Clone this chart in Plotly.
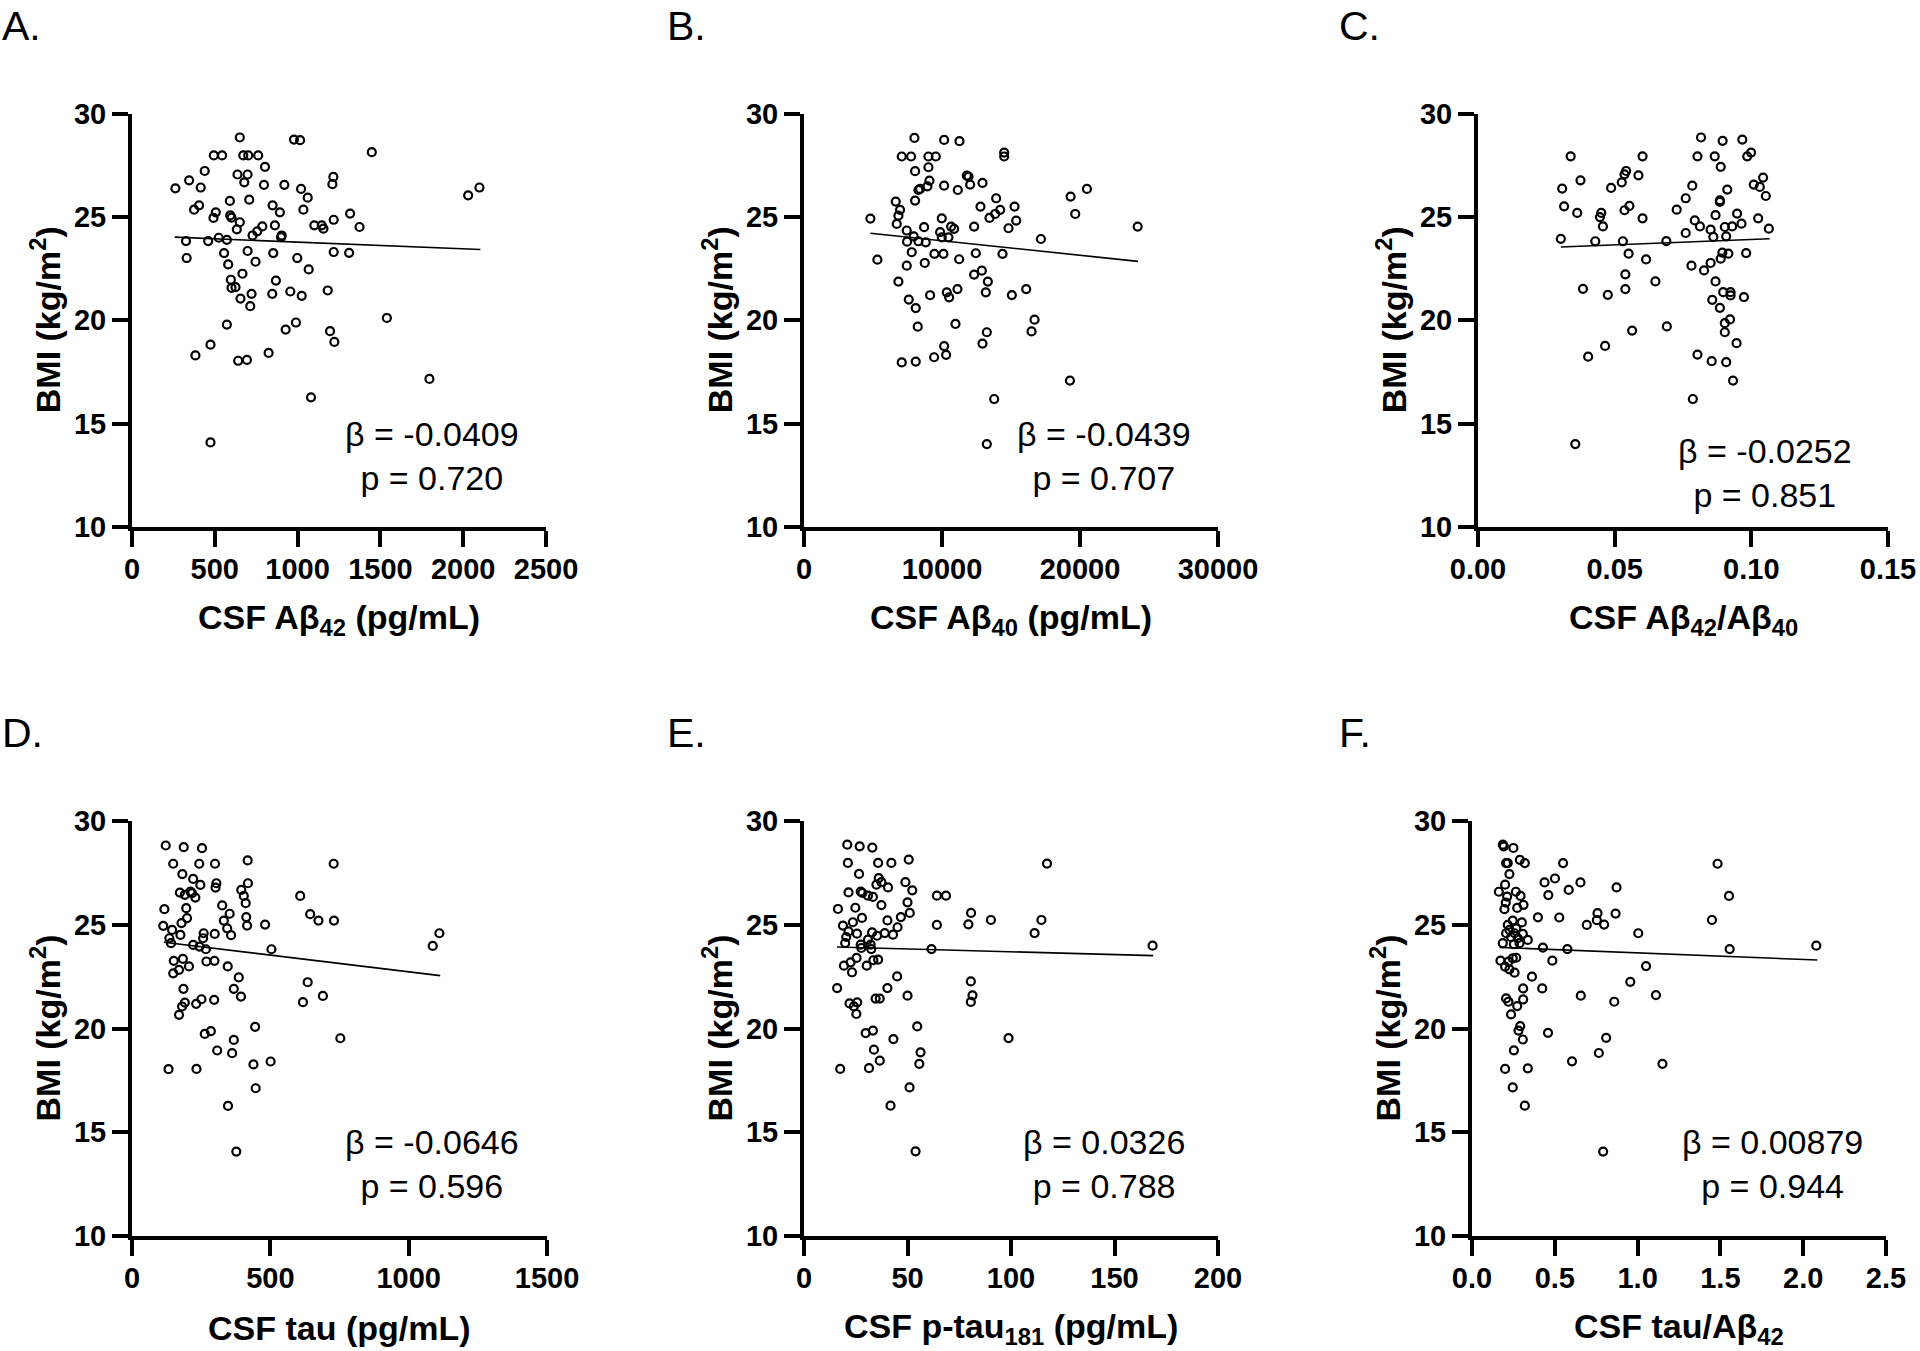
import plotly.graph_objects as go

# ---------------- data ----------------
bmi_label = "BMI (kg/m<sup>2</sup>)"

a_x = [651,978,1015,1448,494,544,672,702,762,803,439,637,698,1216,345,678,262,415,797,920,1021,1210,2098,2030,1061,591,708,849,405,375,506,893,1035,492,593,601,651,633,1317,1218,863,787,756,728,904,900,1101,1146,1156,1374,524,573,460,326,330,556,698,853,1218,1311,998,746,581,1067,667,869,597,601,625,655,722,847,956,1025,1182,714,1539,573,928,990,1196,1222,474,383,641,694,825,1796,1081,474]
a_y = [28.84,28.74,28.71,28.13,27.97,27.97,27.97,27.97,27.97,27.42,27.22,27.05,27.05,26.93,26.77,26.67,26.38,26.42,26.55,26.55,26.35,26.58,26.42,26.04,25.93,25.77,25.83,25.56,25.56,25.35,25.22,25.22,25.35,24.95,25.07,24.96,24.74,24.40,25.16,24.86,24.59,24.54,24.30,24.10,24.10,24.02,24.59,24.59,24.43,24.51,23.99,23.89,23.83,23.83,23.01,23.25,23.35,23.25,23.30,23.26,23.01,22.83,22.70,22.46,22.25,21.92,21.96,21.57,21.60,21.05,21.28,21.28,21.39,21.18,21.44,20.68,20.11,19.79,19.55,19.89,19.47,18.95,18.82,18.30,18.04,18.08,18.42,17.16,16.27,14.09]

b_x = [8002,10154,11266,7083,7760,9017,9549,14506,14506,9017,8050,11798,11919,9090,8945,8413,8292,10154,11145,12040,12934,6648,8050,6962,6841,4810,6720,13926,12789,14216,13853,13442,15256,15377,14820,19318,20503,19656,24178,9984,8703,7446,7953,7470,8292,8824,9864,9984,10468,10661,10879,12330,17166,5318,7808,9452,10105,11242,12451,14385,7446,8751,6841,12330,12886,13321,13176,7591,8098,9138,10347,10516,11121,15062,16102,8243,10976,13249,16706,16489,12934,10154,10299,9428,7083,8098,19270,13781,13249]
b_y = [28.82,28.72,28.66,27.92,27.92,27.92,27.92,28.11,27.92,27.40,27.21,27.00,26.95,26.75,26.48,26.35,26.30,26.51,26.30,26.56,26.64,25.74,25.79,25.34,25.06,24.92,24.66,25.90,25.50,25.34,25.14,24.95,25.50,24.82,24.45,25.98,26.35,25.14,24.53,24.93,24.50,24.34,24.06,23.80,23.82,23.77,24.26,24.01,24.01,24.53,24.42,24.53,23.93,22.93,23.29,23.21,23.21,22.95,23.24,23.21,22.64,22.77,21.87,22.21,22.40,21.87,21.35,21.00,20.59,21.21,21.35,21.11,21.51,21.22,21.51,19.69,19.82,19.42,20.03,19.46,18.87,18.75,18.33,18.21,17.96,18.00,17.08,16.19,14.01]

c_x = [0.0816,0.0895,0.0967,0.0339,0.0602,0.0803,0.0866,0.0999,0.0985,0.0888,0.0542,0.0536,0.0587,0.0526,0.0375,0.0308,0.0487,0.0784,0.0912,0.1043,0.1009,0.1031,0.1053,0.0760,0.0885,0.0885,0.0315,0.0363,0.0451,0.0446,0.0536,0.0554,0.0602,0.0727,0.0869,0.0948,0.1025,0.0457,0.0793,0.0812,0.0851,0.0903,0.0930,0.0964,0.1064,0.0760,0.0861,0.0908,0.0303,0.0429,0.0530,0.0689,0.0551,0.0615,0.0894,0.0916,0.0981,0.0888,0.0781,0.0827,0.0851,0.0539,0.0649,0.0869,0.0384,0.0475,0.0539,0.0897,0.0924,0.0924,0.0973,0.0857,0.0885,0.0903,0.0922,0.0903,0.0691,0.0564,0.0946,0.0465,0.0403,0.0803,0.0855,0.0908,0.0933,0.0786,0.0356]
c_y = [28.84,28.68,28.74,27.93,27.93,27.93,27.93,28.11,27.93,27.42,27.22,27.06,27.01,26.67,26.77,26.37,26.40,26.51,26.32,26.90,26.56,26.45,26.01,25.90,25.80,25.72,25.51,25.19,25.19,24.99,25.32,25.53,24.93,25.35,25.08,25.16,24.93,24.54,24.83,24.54,24.38,24.51,24.54,24.67,24.43,24.22,24.03,24.06,23.94,23.82,23.82,23.83,23.22,22.94,23.27,23.22,23.25,22.98,22.64,22.41,22.77,22.22,21.88,21.88,21.52,21.23,21.51,21.36,21.36,21.20,21.12,20.99,20.60,19.86,20.04,19.42,19.70,19.50,18.89,18.76,18.24,18.34,18.02,17.97,17.08,16.19,14.01]

d_x = [122,187,253,149,243,300,418,729,182,221,247,305,302,419,173,191,211,217,229,395,404,411,608,117,196,326,353,199,179,332,344,358,413,416,481,644,674,730,113,145,175,259,257,299,135,141,221,244,267,504,1087,1111,151,184,206,170,149,269,298,346,386,368,394,635,618,690,186,191,181,170,232,251,297,263,285,445,368,753,308,362,439,501,132,233,447,347,377]
d_y = [28.82,28.74,28.69,27.94,27.94,27.94,28.10,27.94,27.44,27.21,26.92,27.00,26.79,27.00,26.55,26.44,26.60,26.52,26.31,26.68,26.39,26.04,26.39,25.75,25.80,25.93,25.53,25.32,25.08,25.20,24.83,24.50,25.37,24.96,25.01,25.51,25.20,25.20,24.95,24.75,24.51,24.59,24.35,24.56,24.35,24.11,24.03,23.95,23.82,23.82,23.98,24.59,23.26,23.36,22.99,22.83,22.66,23.23,23.26,22.99,22.46,21.91,21.54,22.23,21.27,21.57,21.91,21.25,21.06,20.66,21.19,21.41,21.38,19.74,19.87,20.08,19.45,19.53,18.94,18.81,18.27,18.41,18.04,18.05,17.12,16.27,14.07]

e_x = [20.9,26.9,33.0,21.2,35.8,42.2,50.6,117.4,26.6,36.1,35.0,37.4,40.6,49.0,52.3,21.5,27.4,28.2,30.9,33.3,64.2,68.6,16.4,24.8,37.4,50.0,51.1,80.7,79.4,90.3,114.7,111.4,64.2,28.0,23.6,18.8,40.3,46.8,45.2,39.0,43.0,32.9,35.3,20.4,21.5,25.6,19.9,27.4,30.9,32.2,27.7,32.5,61.6,168.4,19.3,22.5,25.4,23.2,30.3,33.5,35.8,45.0,40.3,16.0,34.6,36.6,50.0,80.6,81.4,80.6,22.0,25.7,24.1,25.3,29.8,33.3,43.2,54.7,98.8,33.8,36.6,31.4,17.5,56.3,55.7,51.0,41.8,53.9]
e_y = [28.86,28.78,28.72,27.98,27.98,27.98,28.14,27.95,27.45,27.25,26.93,27.05,26.80,27.05,26.66,26.56,26.60,26.53,26.40,26.34,26.40,26.40,25.76,25.82,25.95,26.08,25.57,25.57,25.02,25.23,25.23,24.60,24.99,25.33,25.12,24.96,25.21,25.37,24.88,24.60,24.52,24.63,24.47,24.41,24.68,24.57,24.12,24.04,24.28,24.04,23.88,23.83,23.83,23.99,23.03,23.19,23.40,22.71,23.03,23.29,23.32,22.51,21.95,21.95,21.44,21.44,21.58,22.27,21.60,21.28,21.21,21.26,21.07,20.70,19.78,19.90,19.49,20.10,19.54,18.98,18.45,18.09,18.05,18.85,18.30,17.16,16.28,14.08]

f_x = [0.186,0.192,0.250,0.206,0.216,0.289,0.319,0.550,1.483,0.226,0.200,0.162,0.212,0.265,0.293,0.438,0.501,0.655,0.584,0.461,0.873,1.552,0.196,0.273,0.311,0.204,0.398,0.527,0.758,0.867,0.754,0.798,0.693,1.449,1.004,0.216,0.246,0.301,0.226,0.267,0.206,0.257,0.307,0.236,0.277,0.337,0.186,0.253,0.287,0.428,0.576,1.556,2.079,0.172,0.220,0.246,0.267,0.200,0.226,0.257,0.485,1.051,0.362,0.309,0.424,0.956,0.206,0.220,0.273,0.309,0.657,0.859,1.111,0.236,0.291,0.281,0.307,0.459,0.810,0.766,0.253,0.200,0.337,0.604,1.150,0.246,0.319,0.792]
f_y = [28.86,28.78,28.70,27.97,27.97,28.13,27.97,27.97,27.94,27.44,26.93,26.59,26.36,26.59,26.39,27.04,27.23,27.04,26.68,26.43,26.80,26.39,25.75,25.81,25.96,26.07,25.36,25.35,25.56,25.54,25.22,25.01,24.99,25.23,24.59,24.99,25.20,25.11,24.75,24.83,24.59,24.59,24.56,24.40,24.35,24.27,24.11,24.06,24.11,23.90,23.83,23.83,23.99,23.27,23.22,23.38,23.41,22.98,22.85,22.69,23.27,23.01,22.50,21.93,21.93,22.25,21.45,21.29,21.08,21.40,21.58,21.29,21.61,20.68,20.11,19.90,19.47,19.79,19.55,18.82,18.95,18.05,18.08,18.42,18.30,17.16,16.28,14.07]

# regression line end points
a_fit_x, a_fit_y = [258, 2104], [24.02, 23.42]
b_fit_x, b_fit_y = [4810, 24200], [24.21, 22.85]
c_fit_x, c_fit_y = [0.0303, 0.1067], [23.54, 23.94]
d_fit_x, d_fit_y = [115, 1114], [24.16, 22.55]
e_fit_x, e_fit_y = [15.9, 168.7], [23.93, 23.51]
f_fit_x, f_fit_y = [0.166, 2.085], [23.91, 23.30]

# axis ticks / labels / stats
a_ticks = [0, 500, 1000, 1500, 2000, 2500]
b_ticks = [0, 10000, 20000, 30000]
c_ticks = [0.00, 0.05, 0.10, 0.15]
d_ticks = [0, 500, 1000, 1500]
e_ticks = [0, 50, 100, 150, 200]
f_ticks = [0.0, 0.5, 1.0, 1.5, 2.0, 2.5]
y_ticks = [10, 15, 20, 25, 30]

panel_letters = ["A.", "B.", "C.", "D.", "E.", "F."]
x_titles = ["CSF Aβ<sub>42</sub> (pg/mL)", "CSF Aβ<sub>40</sub> (pg/mL)",
            "CSF Aβ<sub>42</sub>/Aβ<sub>40</sub>", "CSF tau (pg/mL)",
            "CSF p-tau<sub>181</sub> (pg/mL)", "CSF tau/Aβ<sub>42</sub>"]
betas = ["-0.0409", "-0.0439", "-0.0252", "-0.0646", "0.0326", "0.00879"]
pvals = ["0.720", "0.707", "0.851", "0.596", "0.788", "0.944"]

# ---------------- layout ----------------
W, H = 1920, 1351
FONT = "Arial, 'Liberation Sans', Helvetica, sans-serif"

def px_x(p):
    return p / W

def px_y(p):
    return 1 - p / H

# plot boxes in pixels: (left, right, top, bottom)
boxes = [
    (132, 546, 113.5, 527), (804, 1218, 113.5, 527), (1478, 1888, 113.5, 527),
    (132, 547, 821, 1236), (804, 1218, 821, 1236), (1472, 1886, 821, 1236),
]
letter_pos = [(0, 26), (665, 26), (1337, 26), (0, 733), (665, 733), (1337, 733)]
stat_off = [(300, 343), (300, 343), (287, 359), (300, 343), (300, 343), (300, 343)]

panels = [
    (a_x, a_y, a_fit_x, a_fit_y, a_ticks, [0, 2500], None),
    (b_x, b_y, b_fit_x, b_fit_y, b_ticks, [0, 30000], None),
    (c_x, c_y, c_fit_x, c_fit_y, c_ticks, [0, 0.15], ".2f"),
    (d_x, d_y, d_fit_x, d_fit_y, d_ticks, [0, 1500], None),
    (e_x, e_y, e_fit_x, e_fit_y, e_ticks, [0, 200], None),
    (f_x, f_y, f_fit_x, f_fit_y, f_ticks, [0, 2.5], ".1f"),
]

fig = go.Figure()
annotations = []
layout_axes = {}

tickfont = dict(family=FONT, size=29, color="black", weight="bold")

for i, (xs, ys, fx, fy, ticks, xr, fmt) in enumerate(panels):
    assert len(xs) == len(ys)
    n = i + 1
    xa = "x" if n == 1 else f"x{n}"
    ya = "y" if n == 1 else f"y{n}"
    L, R, T, B = boxes[i]

    fig.add_trace(go.Scatter(
        x=xs, y=ys, mode="markers", xaxis=xa, yaxis=ya, showlegend=False,
        marker=dict(symbol="circle-open", size=8, color="black", line=dict(width=2.2, color="black")),
        cliponaxis=False,
    ))
    fig.add_trace(go.Scatter(
        x=fx, y=fy, mode="lines", xaxis=xa, yaxis=ya, showlegend=False,
        line=dict(color="black", width=1.6),
    ))

    common = dict(showline=True, linewidth=4, linecolor="black", ticks="outside",
                  ticklen=16, tickwidth=4, tickcolor="black", showgrid=False,
                  zeroline=False, tickfont=tickfont, fixedrange=True,
                  automargin=False)
    layout_axes["xaxis" if n == 1 else f"xaxis{n}"] = dict(
        domain=[px_x(L), px_x(R)], anchor=ya, range=xr, tickvals=ticks,
        tickformat=fmt if fmt else "d", ticklabelstandoff=-3, **common)
    layout_axes["yaxis" if n == 1 else f"yaxis{n}"] = dict(
        domain=[px_y(B), px_y(T)], anchor=xa, range=[10, 30], tickvals=y_ticks,
        **common)

    # x title
    annotations.append(dict(
        text=x_titles[i], xref="paper", yref="paper",
        x=px_x((L + R) / 2), y=px_y(B + 92), xanchor="center", yanchor="middle",
        showarrow=False, font=dict(family=FONT, size=34, color="black", weight="bold")))
    # y title
    annotations.append(dict(
        text=bmi_label, xref="paper", yref="paper", textangle=-90,
        x=px_x(L - 87), y=px_y((T + B) / 2), xanchor="center", yanchor="middle",
        showarrow=False, font=dict(family=FONT, size=34, color="black", weight="bold")))
    # stats
    ox, oy = stat_off[i]
    annotations.append(dict(
        text=f"β = {betas[i]}<br>p = {pvals[i]}", xref="paper", yref="paper",
        x=px_x(L + ox), y=px_y(T + oy), xanchor="center", yanchor="middle",
        align="center", showarrow=False,
        font=dict(family=FONT, size=34, color="black")))
    # panel letter
    lx, ly = letter_pos[i]
    annotations.append(dict(
        text=panel_letters[i], xref="paper", yref="paper",
        x=px_x(lx), y=px_y(ly), xanchor="left", yanchor="middle",
        showarrow=False, font=dict(family=FONT, size=41, color="black")))

fig.update_layout(
    width=W, height=H, margin=dict(l=0, r=0, t=0, b=0, autoexpand=False),
    paper_bgcolor="white", plot_bgcolor="white",
    annotations=annotations, **layout_axes,
)

fig.write_html("out.html", config={"displayModeBar": False},
               post_script="document.body.style.margin='0px';")
